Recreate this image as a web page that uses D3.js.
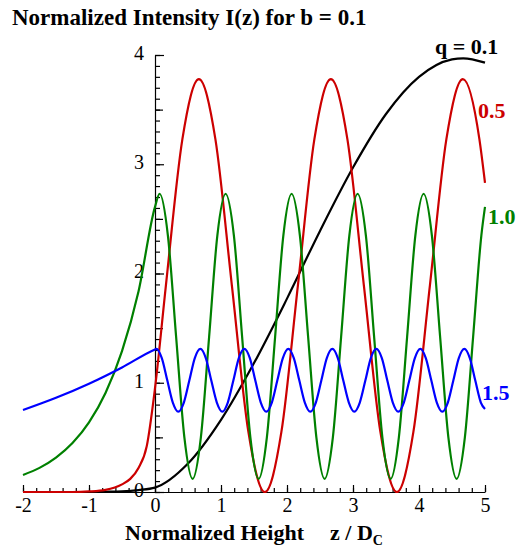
<!DOCTYPE html>
<html>
<head>
<meta charset="utf-8">
<script src="https://cdn.jsdelivr.net/npm/d3@7"></script>
<style>
  body { margin: 0; background: #fff; }
  svg { display: block; }
  text { font-family: "Liberation Serif", "Times New Roman", serif; }
  .tick text { font-size: 20px; }
  .bold { font-weight: bold; font-size: 22px; }
</style>
</head>
<body>
<svg class="intensity"></svg>
<script>
// Page size matches the reference picture
const width = 518;
const height = 550;

// Axis ticks
const xTickLabels = [-2, -1, 0, 1, 2, 3, 4, 5];
const yTickLabels = [0, 1, 2, 3, 4];

// Curve labels (q values)
const qLabels = ["q = 0.1", "0.5", "1.0", "1.5"];
const qColors = ["#000000", "#cc0000", "#008000", "#0000ff"];

// Points, [z / Dc, I(z)]
const curveQ01 = [
  [-2, 0], [-1, 0], [-0.75, 0.002], [-0.5, 0.006], [-0.25, 0.018], [0, 0.04],
  [0.5, 0.26], [1, 0.66], [1.5, 1.18], [2, 1.77], [2.5, 2.39], [3, 2.97],
  [3.5, 3.46], [4, 3.8], [4.5, 3.96], [4.67, 3.97], [5, 3.93]
];

const curveQ05 = [
  [-2, 0], [-1.25, 0], [-1, 0.005], [-0.75, 0.02], [-0.5, 0.07], [-0.375, 0.12],
  [-0.25, 0.22], [-0.125, 0.42], [0, 0.95],
  [0.165, 1.89], [0.415, 3.23], [0.665, 3.78], [0.915, 3.23], [1.165, 1.89],
  [1.415, 0.55], [1.665, 0], [1.915, 0.55], [2.165, 1.89], [2.415, 3.23],
  [2.665, 3.78], [2.915, 3.23], [3.165, 1.89], [3.415, 0.55], [3.665, 0],
  [3.915, 0.55], [4.165, 1.89], [4.415, 3.23], [4.665, 3.78], [4.915, 3.23],
  [5, 2.83]
];

const curveQ10 = [
  [-2, 0.156], [-1.75, 0.221], [-1.5, 0.315], [-1.25, 0.448], [-1, 0.637],
  [-0.75, 0.906], [-0.5, 1.289], [-0.25, 1.835], [0, 2.61],
  [0.07, 2.73], [0.195, 2.35], [0.32, 1.42], [0.445, 0.5], [0.57, 0.12],
  [0.695, 0.5], [0.82, 1.42], [0.945, 2.35], [1.07, 2.73], [1.195, 2.35],
  [1.32, 1.42], [1.445, 0.5], [1.57, 0.12], [1.695, 0.5], [1.82, 1.42],
  [1.945, 2.35], [2.07, 2.73], [2.195, 2.35], [2.32, 1.42], [2.445, 0.5],
  [2.57, 0.12], [2.695, 0.5], [2.82, 1.42], [2.945, 2.35], [3.07, 2.73],
  [3.195, 2.35], [3.32, 1.42], [3.445, 0.5], [3.57, 0.12], [3.695, 0.5],
  [3.82, 1.42], [3.945, 2.35], [4.07, 2.73], [4.195, 2.35], [4.32, 1.42],
  [4.445, 0.5], [4.57, 0.12], [4.695, 0.5], [4.82, 1.42], [4.945, 2.35],
  [5, 2.61]
];

const curveQ15 = [
  [-2, 0.75], [-1.5, 0.862], [-1, 0.991], [-0.5, 1.14], [0, 1.305],
  [0.02, 1.31], [0.103, 1.226], [0.187, 1.02], [0.27, 0.819], [0.353, 0.735],
  [0.437, 0.819], [0.52, 1.02], [0.603, 1.226], [0.687, 1.31], [0.77, 1.226],
  [0.853, 1.02], [0.937, 0.819], [1.02, 0.735], [1.103, 0.819], [1.187, 1.02],
  [1.27, 1.226], [1.353, 1.31], [1.437, 1.226], [1.52, 1.02], [1.603, 0.819],
  [1.687, 0.735], [1.77, 0.819], [1.853, 1.02], [1.937, 1.226], [2.02, 1.31],
  [2.103, 1.226], [2.187, 1.02], [2.27, 0.819], [2.353, 0.735], [2.437, 0.819],
  [2.52, 1.02], [2.603, 1.226], [2.687, 1.31], [2.77, 1.226], [2.853, 1.02],
  [2.937, 0.819], [3.02, 0.735], [3.103, 0.819], [3.187, 1.02], [3.27, 1.226],
  [3.353, 1.31], [3.437, 1.226], [3.52, 1.02], [3.603, 0.819], [3.687, 0.735],
  [3.77, 0.819], [3.853, 1.02], [3.937, 1.226], [4.02, 1.31], [4.103, 1.226],
  [4.187, 1.02], [4.27, 0.819], [4.353, 0.735], [4.437, 0.819], [4.52, 1.02],
  [4.603, 1.226], [4.687, 1.31], [4.77, 1.226], [4.853, 1.02], [4.937, 0.819],
  [5, 0.76]
];

const curves = [curveQ01, curveQ05, curveQ10, curveQ15];

// Select the SVG and set its dimensions
const svg = d3.select(".intensity")
    .attr("width", width)
    .attr("height", height);

// Scales: z from -2 to 5, intensity from 0 to 4
const x = d3.scaleLinear().domain([-2, 5]).range([23, 485]);
const y = d3.scaleLinear().domain([0, 4]).range([492, 55]);

// Bottom axis, ticks pointing up (plain hyphen for negatives)
svg.append("g")
    .attr("transform", `translate(0,${y(0)})`)
    .call(d3.axisBottom(x).tickValues(d3.range(-2, 5.001, 0.2)).tickSize(-4).tickSizeOuter(0).tickFormat(""))
    .call(g => g.select(".domain").remove());

svg.append("g")
    .attr("transform", `translate(0,${y(0)})`)
    .call(d3.axisBottom(x).tickValues(xTickLabels).tickSize(-7).tickSizeOuter(0).tickPadding(6).tickFormat(d => String(d)));

// Vertical axis at z = 0, ticks pointing right
svg.append("g")
    .attr("transform", `translate(${x(0)},0)`)
    .call(d3.axisLeft(y).tickValues(d3.range(0, 4.001, 0.1)).tickSize(-5).tickSizeOuter(0).tickFormat(""))
    .call(g => g.select(".domain").remove());

svg.append("g")
    .attr("transform", `translate(${x(0)},0)`)
    .call(d3.axisLeft(y).tickValues([0.5, 1.5, 2.5, 3.5]).tickSize(-8).tickSizeOuter(0).tickFormat(""))
    .call(g => g.select(".domain").remove());

svg.append("g")
    .attr("transform", `translate(${x(0)},0)`)
    .call(d3.axisLeft(y).tickValues(yTickLabels).tickSize(-9).tickSizeOuter(0).tickPadding(11).tickFormat(d => String(d)))
    .call(g => g.selectAll("text").attr("dy", "0.22em"));

svg.selectAll(".domain, .tick line").attr("stroke", "#000").attr("stroke-width", 1.2);
svg.selectAll(".tick text").attr("fill", "#000");

// Intensity curves
const line = d3.line()
    .x(d => x(d[0]))
    .y(d => y(d[1]))
    .curve(d3.curveMonotoneX);

svg.selectAll(".curve")
    .data(curves)
    .enter()
    .append("path")
    .attr("class", "curve")
    .attr("d", line)
    .attr("fill", "none")
    .attr("stroke", (d, i) => qColors[i])
    .attr("stroke-width", 2.2);

// Curve labels at the right end
const labelPos = [[435, 54], [478, 118], [488, 224], [482, 400]];
svg.selectAll(".qlabel")
    .data(qLabels)
    .enter()
    .append("text")
    .attr("class", "qlabel bold")
    .attr("x", (d, i) => labelPos[i][0])
    .attr("y", (d, i) => labelPos[i][1])
    .attr("fill", (d, i) => qColors[i])
    .text(d => d);

// Title and axis title
svg.append("text")
    .attr("class", "bold")
    .attr("x", 12)
    .attr("y", 25)
    .style("font-size", "23px")
    .text("Normalized Intensity I(z) for b = 0.1");

svg.append("text")
    .attr("class", "bold")
    .attr("x", 125)
    .attr("y", 540)
    .text("Normalized Height");

const zTitle = svg.append("text")
    .attr("class", "bold")
    .attr("x", 330)
    .attr("y", 540)
    .text("z / D");
zTitle.append("tspan")
    .attr("dy", 5)
    .style("font-size", "14px")
    .text("C");
</script>
</body>
</html>
